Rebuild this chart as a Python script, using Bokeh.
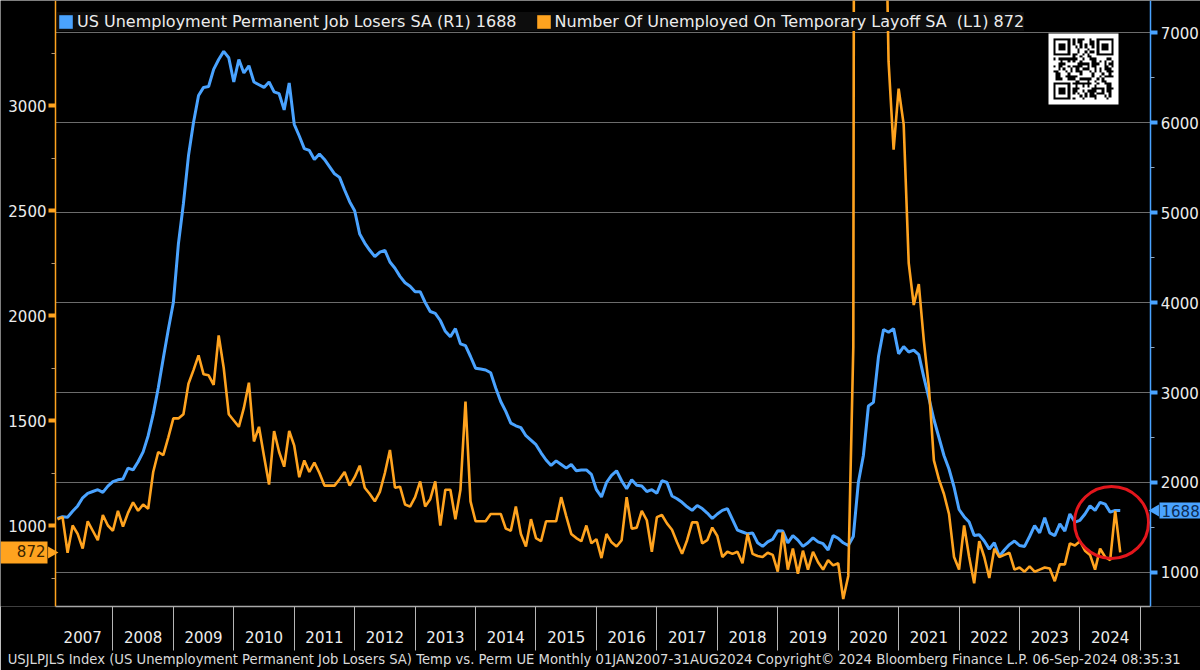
import hashlib
import math
import numpy as np
from bokeh.plotting import figure
from bokeh.models import (Range1d, LinearAxis, FixedTicker, Legend, LegendItem, Label)
from bokeh.embed import file_html
from bokeh.resources import INLINE

# ---------------- data (thousands, monthly, Jan 2007 - Aug 2024) ----------------
years = list(range(2007, 2025))
year_labels = [str(y) for y in years]

perm_losers = [  # US Unemployment Permanent Job Losers SA (R1)
    1600, 1620, 1615, 1680, 1740, 1830, 1880, 1900, 1920, 1890, 1960, 2010,   # 2007
    2030, 2040, 2160, 2140, 2230, 2340, 2520, 2760, 3050, 3380, 3700, 4000,   # 2008
    4650, 5100, 5630, 6000, 6300, 6390, 6400, 6590, 6700, 6790, 6720, 6450,   # 2009
    6700, 6550, 6630, 6450, 6420, 6390, 6450, 6340, 6320, 6140, 6440, 5980,   # 2010
    5850, 5710, 5690, 5590, 5650, 5590, 5510, 5430, 5390, 5250, 5120, 5020,   # 2011
    4760, 4660, 4580, 4510, 4560, 4580, 4450, 4380, 4290, 4220, 4180, 4120,   # 2012
    4120, 4000, 3900, 3880, 3800, 3680, 3620, 3710, 3540, 3520, 3400, 3270,   # 2013
    3260, 3250, 3220, 3050, 2900, 2790, 2660, 2630, 2610, 2520, 2470, 2420,   # 2014
    2330, 2250, 2190, 2240, 2200, 2160, 2200, 2130, 2140, 2140, 2090, 1920,   # 2015
    1840, 2000, 2080, 2130, 2020, 1930, 2030, 1970, 1960, 1900, 1920, 1880,   # 2016
    2020, 2000, 1850, 1820, 1780, 1730, 1690, 1745, 1710, 1660, 1600, 1650,   # 2017
    1690, 1710, 1590, 1470, 1450, 1430, 1440, 1330, 1290, 1340, 1370, 1465,   # 2018
    1460, 1330, 1410, 1360, 1290, 1330, 1385, 1340, 1320, 1250, 1410, 1380,   # 2019
    1330, 1300, 1400, 2000, 2300, 2850, 2890, 3400, 3700, 3670, 3710, 3430,   # 2020
    3510, 3450, 3470, 3420, 3170, 2940, 2700, 2500, 2300, 2150, 1950, 1700,   # 2021
    1620, 1560, 1410, 1420, 1350, 1260, 1330, 1180, 1250, 1310, 1350, 1300,   # 2022
    1290, 1400, 1520, 1440, 1610, 1440, 1410, 1540, 1460, 1650, 1560, 1580,   # 2023
    1650, 1740, 1690, 1780, 1760, 1670, 1690, 1688,                           # 2024
]

temp_layoff = [  # Number Of Unemployed On Temporary Layoff SA (L1)
    1030, 1040, 870, 1000, 960, 890, 1020, 975, 930, 1050, 1000, 975,         # 2007
    1070, 995, 1060, 1110, 1070, 1100, 1080, 1255, 1350, 1335, 1420, 1510,    # 2008
    1510, 1530, 1675, 1740, 1810, 1720, 1715, 1670, 1905, 1750, 1530, 1500,   # 2009
    1470, 1560, 1680, 1400, 1470, 1330, 1195, 1450, 1350, 1280, 1450, 1380,   # 2010
    1230, 1310, 1255, 1300, 1250, 1190, 1190, 1190, 1220, 1255, 1190, 1230,   # 2011
    1285, 1180, 1150, 1115, 1160, 1250, 1360, 1180, 1185, 1100, 1090, 1135,   # 2012
    1210, 1090, 1125, 1210, 1000, 1170, 1170, 1030, 1170, 1590, 1115, 1020,   # 2013
    1020, 1020, 1055, 1055, 1055, 985, 975, 1090, 960, 900, 1030, 940,        # 2014
    925, 1020, 1020, 1020, 1135, 1045, 960, 940, 925, 1000, 915, 935,         # 2015
    845, 960, 920, 900, 930, 1135, 985, 990, 1070, 1025, 875, 1040,           # 2016
    1050, 1010, 980, 920, 865, 930, 1015, 1015, 915, 930, 990, 950,           # 2017
    850, 875, 865, 875, 820, 960, 865, 855, 850, 870, 860, 780,               # 2018
    970, 790, 890, 770, 880, 790, 875, 825, 790, 835, 810, 820,               # 2019
    650, 760, 1850, 18060, 15340, 10570, 9230, 6160, 4560, 3210, 2790, 3080,  # 2020
    2910, 2250, 2050, 2150, 1880, 1660, 1310, 1220, 1150, 1055, 850, 790,     # 2021
    1000, 850, 725, 925, 850, 750, 890, 850, 860, 870, 790, 800,              # 2022
    780, 805, 780, 790, 800, 795, 735, 815, 815, 915, 905, 925,               # 2023
    880, 860, 790, 890, 850, 835, 1070, 872,                                  # 2024
]

right_ticks = [1000, 2000, 3000, 4000, 5000, 6000, 7000]
right_minor = [1500, 2500, 3500, 4500, 5500, 6500]
left_ticks = [1000, 1500, 2000, 2500, 3000]
left_minor = [750, 1250, 1750, 2250, 2750, 3250]

perm_name = "US Unemployment Permanent Job Losers SA (R1) 1688"
temp_name = "Number Of Unemployed On Temporary Layoff SA \u00a0(L1) 872"
footer = ("USJLPJLS Index (US Unemployment Permanent Job Losers SA) Temp vs. Perm UE  Monthly "
          "01JAN2007-31AUG2024  Copyright\u00a9 2024 Bloomberg Finance L.P.  06-Sep-2024 08:35:31")

# month-end positions in fractional years
xs = [2007 + (i + 1) / 12 for i in range(len(perm_losers))]

BLUE = "#4aa3ff"
ORANGE = "#ffa31f"
FONT = "DejaVu Sans"
TXT = "#ececec"

# ---------------- geometry ----------------
PPY = 60.44                      # pixels per year
X_AXIS_L = 2007.05               # where the left axis stands
X_AXIS_R = 2025.17               # where the right axis stands
def px(xpix):                    # canvas x pixel -> data x (frame spans whole width)
    return X_AXIS_L + (xpix - 55) / PPY

p = figure(width=1200, height=670, output_backend="svg", toolbar_location=None,
           x_range=Range1d(px(0), px(1200)), y_range=Range1d(622.2, 7355.6),
           y_axis_location="right",
           min_border_left=0, min_border_right=0, min_border_top=0, min_border_bottom=64,
           background_fill_color="black", border_fill_color="black",
           outline_line_color=None)
p.extra_y_ranges = {"left": Range1d(614.3, 3500)}

# grid lines (at right-axis ticks, between the two axes)
p.xgrid.visible = False
p.ygrid.visible = False
p.segment(x0=[X_AXIS_L] * len(right_ticks), x1=[X_AXIS_R] * len(right_ticks),
          y0=right_ticks, y1=right_ticks, line_color="#6c6c6c", line_width=1)

# right axis
ra = p.yaxis[0]
ra.fixed_location = X_AXIS_R
ra.ticker = FixedTicker(ticks=right_ticks, minor_ticks=right_minor)
ra.axis_line_color = BLUE
ra.axis_line_width = 1.5
ra.major_tick_line_color = BLUE
ra.major_tick_line_width = 4
ra.major_tick_out = 7
ra.major_tick_in = 0
ra.minor_tick_line_color = "#8aa8c8"
ra.minor_tick_out = 4
ra.minor_tick_in = 0
ra.major_label_standoff = 3
ra.major_label_text_color = TXT
ra.major_label_text_font = FONT
ra.major_label_text_font_size = "15px"

# left axis
la = LinearAxis(y_range_name="left", fixed_location=X_AXIS_L,
                ticker=FixedTicker(ticks=left_ticks, minor_ticks=left_minor))
la.axis_line_color = ORANGE
la.axis_line_width = 1.5
la.major_tick_line_color = ORANGE
la.major_tick_line_width = 4
la.major_tick_out = 7
la.major_tick_in = 0
la.minor_tick_line_color = "#b89870"
la.minor_tick_out = 4
la.minor_tick_in = 0
la.major_label_standoff = 2
la.major_label_text_color = TXT
la.major_label_text_font = FONT
la.major_label_text_font_size = "15px"
p.add_layout(la, "left")

# bottom axis: year labels centred between yearly separators
xa = p.xaxis[0]
mid_ticks = [y + 0.5 for y in years]
xa.bounds = (X_AXIS_L, X_AXIS_R)
xa.ticker = FixedTicker(ticks=mid_ticks, minor_ticks=list(range(2008, 2026)))
xa.major_label_overrides = {t: lab for t, lab in zip(mid_ticks, year_labels)}
xa.major_tick_line_color = None
xa.major_tick_out = 0
xa.major_tick_in = 0
xa.minor_tick_line_color = "#b5b5b5"
xa.minor_tick_out = 44
xa.minor_tick_in = 0
xa.axis_line_color = "#a8a8a8"
xa.axis_line_width = 1.5
xa.major_label_standoff = -20
xa.major_label_text_color = TXT
xa.major_label_text_font = FONT
xa.major_label_text_font_size = "15px"
xa.axis_label = footer
xa.axis_label_standoff = 6
xa.axis_label_text_font = FONT
xa.axis_label_text_font_size = "13.2px"
xa.axis_label_text_font_style = "normal"
xa.axis_label_text_color = "#dadada"

# series
p.line(xs, perm_losers, line_color=BLUE, line_width=3)
p.line(xs, temp_layoff, line_color=ORANGE, line_width=2.6, y_range_name="left")

# legend swatches (zero-size quads below the visible range)
sw_b = p.quad(left=[xs[0]], right=[xs[0]], top=[0], bottom=[0], fill_color=BLUE, line_color=None)
sw_o = p.quad(left=[xs[0]], right=[xs[0]], top=[0], bottom=[0], fill_color=ORANGE, line_color=None)
legend = Legend(items=[LegendItem(label=perm_name, renderers=[sw_b]),
                       LegendItem(label=temp_name, renderers=[sw_o])],
                orientation="horizontal", location=(57, 575),
                background_fill_color="#0d0d0d", background_fill_alpha=1.0,
                border_line_color=None, margin=0, padding=6, spacing=18,
                glyph_width=17, glyph_height=17, label_standoff=3,
                label_text_color=TXT, label_text_font=FONT,
                label_text_font_size="16px")
p.add_layout(legend)

# last-value callouts on the axes
p.scatter(x=[px(1155)], y=[perm_losers[-1]], marker="triangle", size=12,
          angle=math.pi / 2, fill_color=BLUE, line_color=None)
p.add_layout(Label(x=px(1159), y=perm_losers[-1], text=str(perm_losers[-1]),
                   text_align="left", text_baseline="middle",
                   text_color="#0c2c55", text_font=FONT, text_font_size="15px",
                   background_fill_color=BLUE, padding=2))
p.scatter(x=[px(51)], y=[temp_layoff[-1]], y_range_name="left", marker="triangle", size=12,
          angle=-math.pi / 2, fill_color=ORANGE, line_color=None)
p.add_layout(Label(x=px(47), y=temp_layoff[-1], y_range_name="left",
                   text="\u00a0\u00a0\u00a0" + str(temp_layoff[-1]),
                   text_align="right", text_baseline="middle",
                   text_color="#3a2400", text_font=FONT, text_font_size="15px",
                   background_fill_color=ORANGE, padding=2))

# red highlight circle
p.ellipse(x=[px(1111)], y=[1556], width=74, height=72,
          width_units="screen", height_units="screen",
          fill_color=None, line_color="#e3161c", line_width=3)

# QR-code decoration
N = 25
mods = np.zeros((N, N), dtype=bool)
bits = "".join(f"{b:08b}" for b in hashlib.sha256(b"bloomberg").digest()) * 3
k = 0
for r in range(N):
    for c in range(N):
        mods[r, c] = bits[k % len(bits)] == "1"
        k += 1
def finder(r0, c0):
    for r in range(-1, 8):
        for c in range(-1, 8):
            rr, cc = r0 + r, c0 + c
            if 0 <= rr < N and 0 <= cc < N:
                if r in (-1, 7) or c in (-1, 7):
                    mods[rr, cc] = False
                elif r in (0, 6) or c in (0, 6) or (2 <= r <= 4 and 2 <= c <= 4):
                    mods[rr, cc] = True
                else:
                    mods[rr, cc] = False
finder(0, 0); finder(0, N - 7); finder(N - 7, 0)
M = N + 4
img = np.zeros((M, M), dtype=np.uint32)
view = img.view(dtype=np.uint8).reshape((M, M, 4))
view[:, :, :] = 255
for r in range(N):
    for c in range(N):
        if mods[r, c]:
            view[r + 2, c + 2, 0:3] = 0
img = img[::-1].copy()
p.image_rgba(image=[img], x=px(1048), y=6200, dw=70 / PPY, dh=789)

open("out.html", "w").write(file_html(p, INLINE))
